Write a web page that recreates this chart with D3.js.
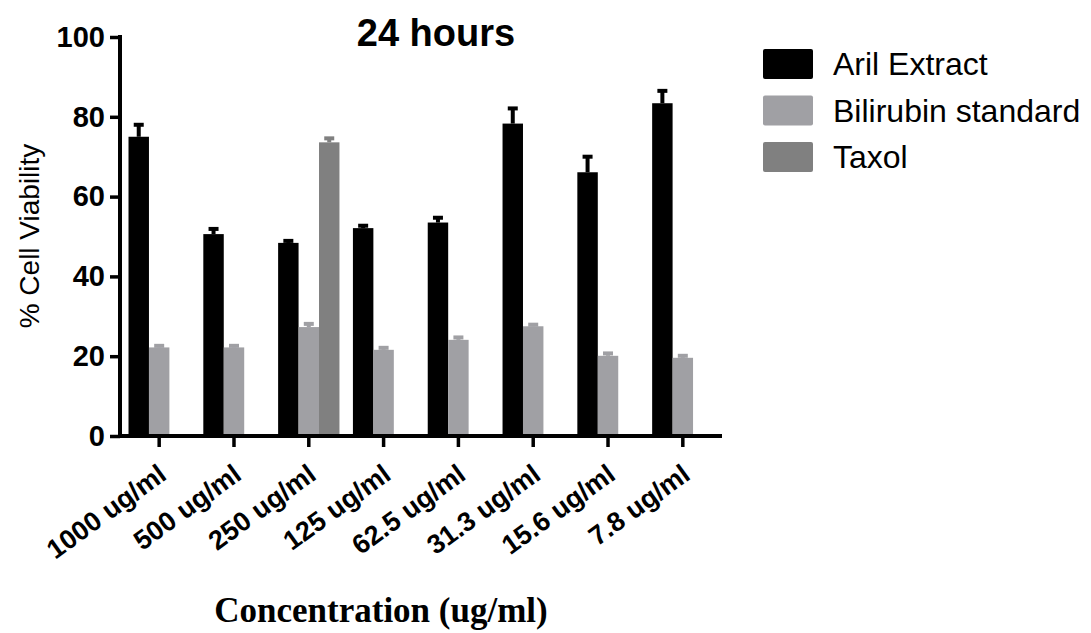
<!DOCTYPE html>
<html>
<head>
<meta charset="utf-8">
<script src="https://cdn.jsdelivr.net/npm/d3@7"></script>
<style>
  body { margin: 0; background: #fff; }
  text { font-family: Arial, "Liberation Sans", sans-serif; }
</style>
</head>
<body>
<div id="displaybox"></div>
<script>
let categories = ["1000 ug/ml", "500 ug/ml", "250 ug/ml", "125 ug/ml", "62.5 ug/ml", "31.3 ug/ml", "15.6 ug/ml", "7.8 ug/ml"];
let seriesNames = ["Aril Extract", "Bilirubin standard", "Taxol"];
let arilMean = [75.0, 50.6, 48.4, 52.1, 53.5, 78.3, 66.1, 83.4];
let arilErr = [3.0, 1.3, 0.5, 0.6, 1.2, 3.8, 3.9, 3.1];
let biliMean = [22.2, 22.2, 27.3, 21.6, 24.1, 27.5, 20.1, 19.6];
let biliErr = [0.4, 0.4, 0.8, 0.5, 0.6, 0.4, 0.6, 0.5];
let taxolMean = [null, null, 73.6, null, null, null, null, null];
let taxolErr = [null, null, 1.0, null, null, null, null, null];
let yTicks = [0, 20, 40, 60, 80, 100];
let colors = ["#000000", "#a0a0a4", "#808080"];

let means = [arilMean, biliMean, taxolMean];
let errs = [arilErr, biliErr, taxolErr];

let width = 1091, height = 633;
let svg = d3.select("#displaybox")
    .append("svg")
        .attr("width", width)
        .attr("height", height);

let x = d3.scaleBand()
    .domain(categories)
    .range([122, 720])
    .paddingInner(0.18)
    .paddingOuter(0.087);

let xs = d3.scaleBand()
    .domain(seriesNames)
    .range([0, x.bandwidth()]);

let y = d3.scaleLinear()
    .domain([0, 100])
    .range([436, 37]);

// flatten into bar records
let bars = [];
seriesNames.forEach(function(s, i) {
    categories.forEach(function(c, j) {
        if (means[i][j] != null) bars.push({series: s, cat: c, v: means[i][j], e: errs[i][j], color: colors[i]});
    });
});

let plot = svg.append("g");

plot.selectAll("rect.bar").data(bars)
    .enter()
    .append("rect")
        .attr("class", "bar")
        .attr("x", function(d) { return x(d.cat) + xs(d.series); })
        .attr("y", function(d) { return y(d.v); })
        .attr("width", xs.bandwidth())
        .attr("height", function(d) { return y(0) - y(d.v); })
        .style("fill", function(d) { return d.color; });

// error bars (upper only)
let eb = plot.selectAll("g.err").data(bars)
    .enter()
    .append("g")
        .attr("class", "err")
        .attr("transform", function(d) { return `translate(${x(d.cat) + xs(d.series) + xs.bandwidth() / 2},0)`; });
eb.append("line")
    .attr("x1", 0).attr("x2", 0)
    .attr("y1", function(d) { return y(d.v); })
    .attr("y2", function(d) { return y(d.v + d.e); })
    .style("stroke", function(d) { return d.color; })
    .style("stroke-width", 4);
eb.append("line")
    .attr("x1", -5).attr("x2", 5)
    .attr("y1", function(d) { return y(d.v + d.e); })
    .attr("y2", function(d) { return y(d.v + d.e); })
    .style("stroke", function(d) { return d.color; })
    .style("stroke-width", 4);

// y axis
let yAxis = svg.append("g")
    .attr("transform", "translate(120,0)")
    .call(d3.axisLeft(y).tickValues(yTicks).tickSize(10).tickSizeOuter(0).tickPadding(5));
yAxis.select(".domain").attr("d", `M0,${y(100) - 2}V${y(0) + 2}`);

// x axis
let xAxis = svg.append("g")
    .attr("transform", `translate(0,${y(0)})`)
    .call(d3.axisBottom(x).tickSize(11).tickSizeOuter(0).tickFormat(""));
xAxis.select(".domain").attr("d", `M118,0H722`);

svg.selectAll(".domain").style("stroke", "#000").style("stroke-width", 4);
svg.selectAll(".tick line").style("stroke", "#000").style("stroke-width", 3.5);
yAxis.selectAll("text")
    .style("font-size", "29px")
    .style("font-weight", "bold")
    .style("font-family", "Arial, 'Liberation Sans', sans-serif")
    .attr("fill", "#000");

// rotated category labels
svg.append("g").selectAll("text").data(categories)
    .enter()
    .append("text")
        .attr("transform", function(d) { return `translate(${x(d) + x.bandwidth() / 2 + 9},478) rotate(-36)`; })
        .attr("text-anchor", "end")
        .style("font-size", "27px")
        .style("font-weight", "bold")
        .text(function(d) { return d; });

// title and axis titles
svg.append("text")
    .attr("x", 436).attr("y", 46)
    .attr("text-anchor", "middle")
    .style("font-size", "38px")
    .style("font-weight", "bold")
    .text("24 hours");

svg.append("text")
    .attr("transform", "translate(39,236) rotate(-90)")
    .attr("text-anchor", "middle")
    .style("font-size", "28px")
    .text("% Cell Viability");

svg.append("text")
    .attr("x", 381).attr("y", 622)
    .attr("text-anchor", "middle")
    .style("font-family", "'Times New Roman', 'Liberation Serif', serif")
    .style("font-size", "35px")
    .style("font-weight", "bold")
    .text("Concentration (ug/ml)");

// legend
let legend = svg.append("g").selectAll("g").data(seriesNames)
    .enter()
    .append("g")
        .attr("transform", function(d, i) { return `translate(763,${49 + i * 46.5})`; });
legend.append("rect")
    .attr("width", 50).attr("height", 30)
    .attr("rx", 2)
    .style("fill", function(d, i) { return colors[i]; });
legend.append("text")
    .attr("x", 70).attr("y", 26)
    .style("font-size", "32px")
    .text(function(d) { return d; });
</script>
</body>
</html>
